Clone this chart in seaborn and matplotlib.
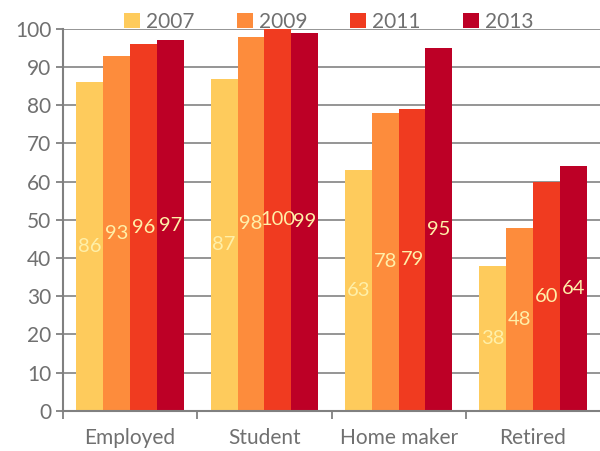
import matplotlib
matplotlib.use("Agg")
import matplotlib.pyplot as plt
import seaborn as sns
import pandas as pd

# Chart values
categories = ["Employed", "Student", "Home maker", "Retired"]
years = ["2007", "2009", "2011", "2013"]
values_2007 = [86, 87, 63, 38]
values_2009 = [93, 98, 78, 48]
values_2011 = [96, 100, 79, 60]
values_2013 = [97, 99, 95, 64]
colors = ["#FECB5C", "#FD8C3C", "#F03B20", "#BD0026"]

series = [values_2007, values_2009, values_2011, values_2013]
rows = []
for year, vals in zip(years, series):
    for cat, v in zip(categories, vals):
        rows.append({"category": cat, "year": year, "value": v})
df = pd.DataFrame(rows)

sns.set_style("white")
plt.rcParams["font.family"] = ["Lato", "DejaVu Sans"]

grey = "#808080"
fig = plt.figure(figsize=(6, 4.51), dpi=100)
ax = fig.add_axes([0.105, 0.089, 0.895, 0.847])

sns.barplot(data=df, x="category", y="value", hue="year", order=categories,
            hue_order=years, palette=colors, width=0.8, saturation=1,
            ax=ax, linewidth=0)

for cont in ax.containers:
    ax.bar_label(cont, label_type="center", color="#FFEFA8", fontsize=14.5)

ax.set_ylim(0, 100)
ax.set_xlim(-0.5, 3.5)
ax.set_yticks(range(0, 101, 10))
ax.set_axisbelow(True)
ax.yaxis.grid(True, color="#8C8C8C", linewidth=1.3)
ax.set_xlabel("")
ax.set_ylabel("")

for s in ["top", "right"]:
    ax.spines[s].set_visible(False)
for s in ["left", "bottom"]:
    ax.spines[s].set_color(grey)
    ax.spines[s].set_linewidth(1.5)

ax.tick_params(axis="y", left=True, length=5, width=1.3, color=grey,
               labelcolor="#707070", labelsize=15)
ax.tick_params(axis="x", which="major", length=0, labelcolor="#707070",
               labelsize=15, pad=12)
ax.set_xticks([-0.5, 0.5, 1.5, 2.5], minor=True)
ax.tick_params(axis="x", which="minor", bottom=True, length=6, width=1.3,
               color=grey)

handles, labels = ax.get_legend_handles_labels()
ax.legend(handles, labels, ncol=4, frameon=False, loc="upper center",
          bbox_to_anchor=(0.548, 1.015), bbox_transform=fig.transFigure,
          handlelength=0.75, handleheight=0.75, handletextpad=0.3,
          columnspacing=2.05, fontsize=15, labelcolor="#707070")

fig.savefig("out.png", dpi=100)
